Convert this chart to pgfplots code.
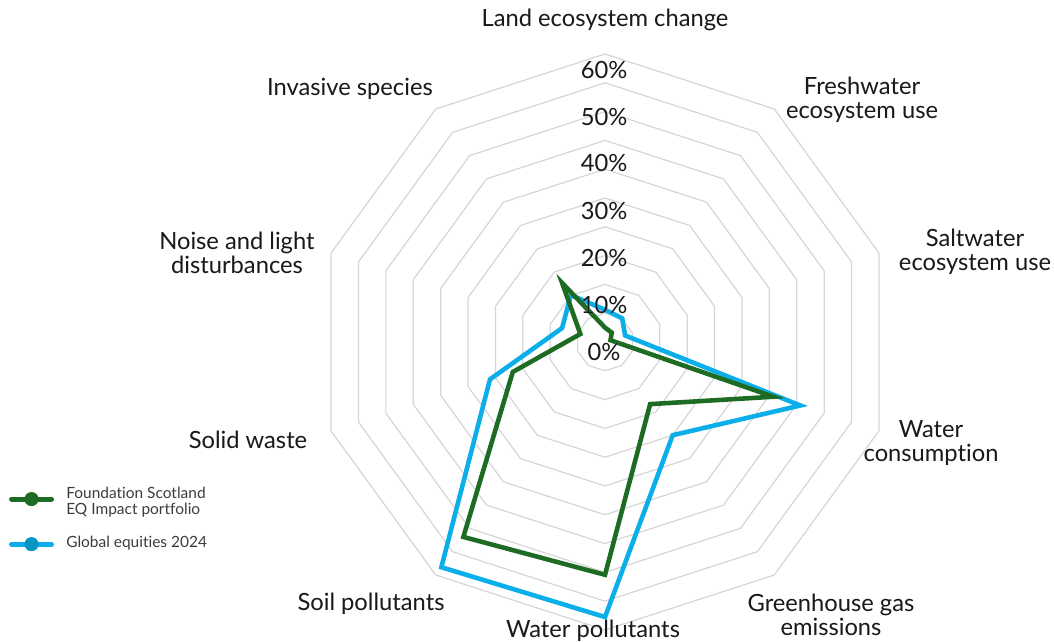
\documentclass[border=0pt]{standalone}
\usepackage{pgfplots}
\pgfplotsset{compat=1.18}
\usepackage{fontspec}
\setmainfont{Lato}[Ligatures=NoCommon]
\usepackage[outline]{contour}
\definecolor{gr}{HTML}{1E6B23}
\definecolor{bl}{HTML}{0AAEE8}
\definecolor{gridc}{HTML}{D6D6D6}
\definecolor{txt}{HTML}{1A1A1A}
\definecolor{glow}{HTML}{E4F4FC}
\contourlength{1.1pt}
\newcommand{\gl}[1]{\contour{glow}{#1}}
\begin{document}
\begin{tikzpicture}
\begin{axis}[
  at={(0,0)}, anchor=south west,
  scale only axis, width=10.54cm, height=6.42cm,
  xmin=-126.04, xmax=93.54, ymin=-62.5, ymax=71.25,
  hide axis, clip=false,
  legend cell align=left,
  legend image code/.code={\draw[#1, line cap=round, mark repeat=2, mark phase=2] plot coordinates {(0cm,0cm) (0.2cm,0cm) (0.4cm,0cm)};},
  legend style={at={(axis cs:-124.3,-28.3)}, anchor=north west, draw=none, fill=none,
    font=\fontsize{4.4pt}{5.1pt}\selectfont, text=txt!85, inner sep=0pt, row sep=2.6pt,
    cells={anchor=west}, /tikz/every odd column/.append style={column sep=1.5pt}},
]
\pgfplotsinvokeforeach{6,12,18,24,30,36,42,48,54,60}{
  \addplot[gridc, line width=0.35pt, data cs=polar, forget plot] coordinates
  {(90,#1) (54,#1) (18,#1) (-18,#1) (-54,#1) (-90,#1) (-126,#1) (-162,#1) (162,#1) (126,#1)} -- cycle;
}
% Global equities 2024
\addplot[bl, line width=1.3pt, data cs=polar, forget plot] coordinates
 {(90,6.7) (54,6.1) (18,4.4) (-18,42.8) (-54,24.0) (-90,57.3) (-126,58.0) (-162,25.2) (162,9.4) (126,12.1)} -- cycle;
% Foundation Scotland EQ Impact portfolio
\addplot[gr, line width=1.3pt, data cs=polar, forget plot] coordinates
 {(90,3.0) (54,2.4) (18,1.2) (-18,36.9) (-54,16.0) (-90,48.5) (-126,50.2) (-162,20.2) (162,5.4) (126,15.2)} -- cycle;

\addlegendimage{gr, line width=1.4pt, mark=*, mark size=1.9pt, mark options={line width=0.2pt}}
\addlegendentry{\begin{tabular}{@{}l@{}}Foundation Scotland\\[-0.3pt]EQ Impact portfolio\end{tabular}}
\addlegendimage{bl, line width=1.4pt, mark=*, mark size=1.9pt, mark options={line width=0.2pt, fill=bl!85!black, draw=bl!85!black}}
\addlegendentry{Global equities 2024}

\begin{scope}[every node/.style={text=txt, font=\fontsize{6.75pt}{6.85pt}\selectfont, align=center}]
\node at (axis cs:0,67.08) {\gl{Land ecosystem change}};
\node at (axis cs:53.54,50.42) {\gl{Freshwater}\\\gl{ecosystem use}};
\node at (axis cs:77.08,18.75) {\gl{Saltwater}\\\gl{ecosystem use}};
\node at (axis cs:67.92,-21.04) {\gl{Water}\\\gl{consumption}};
\node at (axis cs:47.08,-56.88) {\gl{Greenhouse gas}\\\gl{emissions}};
\node at (axis cs:-2.5,-60.21) {\gl{Water pollutants}};
\node at (axis cs:-48.75,-54.58) {\gl{Soil pollutants}};
\node at (axis cs:-74.38,-20.42) {\gl{Solid waste}};
\node at (axis cs:-76.67,18.54) {\gl{Noise and light}\\\gl{disturbances}};
\node at (axis cs:-53.13,52.71) {\gl{Invasive species}};
\node at (axis cs:-0.2,-2.08) {\gl{0\%}};
\node at (axis cs:-0.2,7.71) {\gl{10\%}};
\node at (axis cs:-0.2,17.5) {\gl{20\%}};
\node at (axis cs:-0.2,27.29) {\gl{30\%}};
\node at (axis cs:-0.2,37.29) {\gl{40\%}};
\node at (axis cs:-0.2,46.88) {\gl{50\%}};
\node at (axis cs:-0.2,56.67) {\gl{60\%}};
\end{scope}
\end{axis}
\pgfresetboundingbox
\path (0,0) rectangle (10.54cm,6.42cm);
\end{tikzpicture}
\end{document}
